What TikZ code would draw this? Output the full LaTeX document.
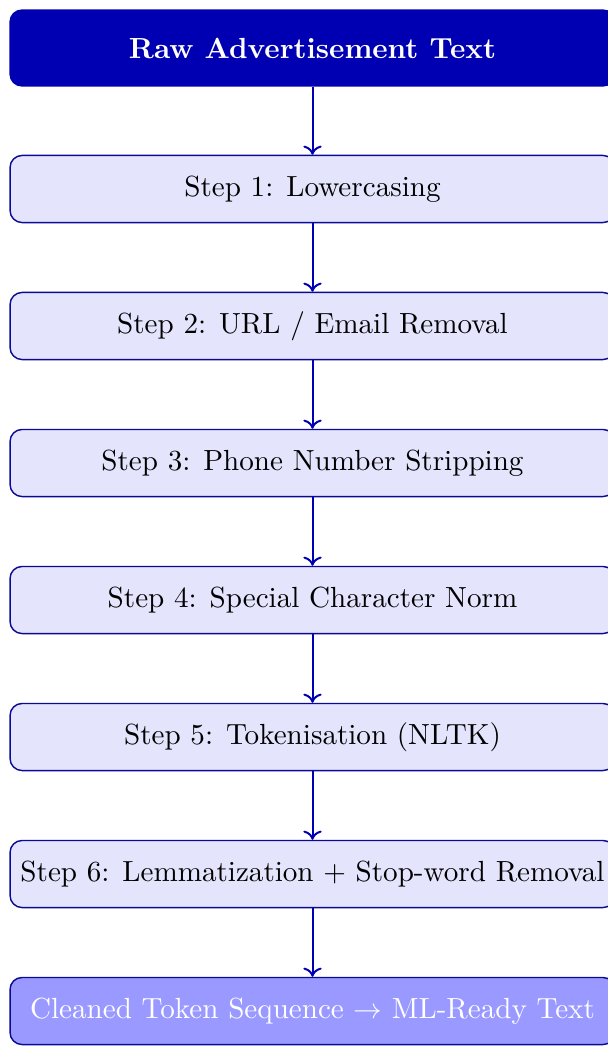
\documentclass[tikz,border=0pt]{standalone}
\usetikzlibrary{arrows.meta}
\definecolor{dkblue}{RGB}{0,0,178}
\definecolor{edgeblue}{RGB}{10,10,150}
\definecolor{lightfill}{RGB}{228,228,252}
\definecolor{endfill}{RGB}{153,153,255}
\begin{document}
\begin{tikzpicture}[x=0.3503pt,y=-0.3503pt,
  basebox/.style={rectangle, rounded corners=4.2pt, inner sep=0pt,
    minimum width=211.9pt, draw=edgeblue, line width=0.5pt},
  headbox/.style={basebox, draw=dkblue, fill=dkblue, text=white, minimum height=26.6pt, font=\fontsize{10.2pt}{12pt}\selectfont\bfseries},
  stepbox/.style={basebox, fill=lightfill, text=black, minimum height=23.5pt, font=\fontsize{10.2pt}{12pt}\selectfont},
  endbox/.style={basebox, fill=endfill, text=white, minimum height=23.5pt, font=\fontsize{10.2pt}{12pt}\selectfont},
  conn/.style={-{To[length=3.2pt,width=6.4pt]}, draw=dkblue, line width=0.7pt}]
\useasboundingbox (0,0) rectangle (608,1048);
\node[headbox] (raw) at (312.5,48) {Raw Advertisement Text};
\node[stepbox] (s1) at (312.5,189) {Step 1: Lowercasing};
\node[stepbox] (s2) at (312.5,326) {Step 2: URL / Email Removal};
\node[stepbox] (s3) at (312.5,463) {Step 3: Phone Number Stripping};
\node[stepbox] (s4) at (312.5,600) {Step 4: Special Character Norm};
\node[stepbox] (s5) at (312.5,737) {Step 5: Tokenisation (NLTK)};
\node[stepbox] (s6) at (312.5,874) {Step 6: Lemmatization + Stop-word Removal};
\node[endbox] (out) at (312.5,1011) {Cleaned Token Sequence $\rightarrow$ ML-Ready Text};
\draw[conn] (raw) -- (s1);
\draw[conn] (s1) -- (s2);
\draw[conn] (s2) -- (s3);
\draw[conn] (s3) -- (s4);
\draw[conn] (s4) -- (s5);
\draw[conn] (s5) -- (s6);
\draw[conn] (s6) -- (out);
\end{tikzpicture}
\end{document}
